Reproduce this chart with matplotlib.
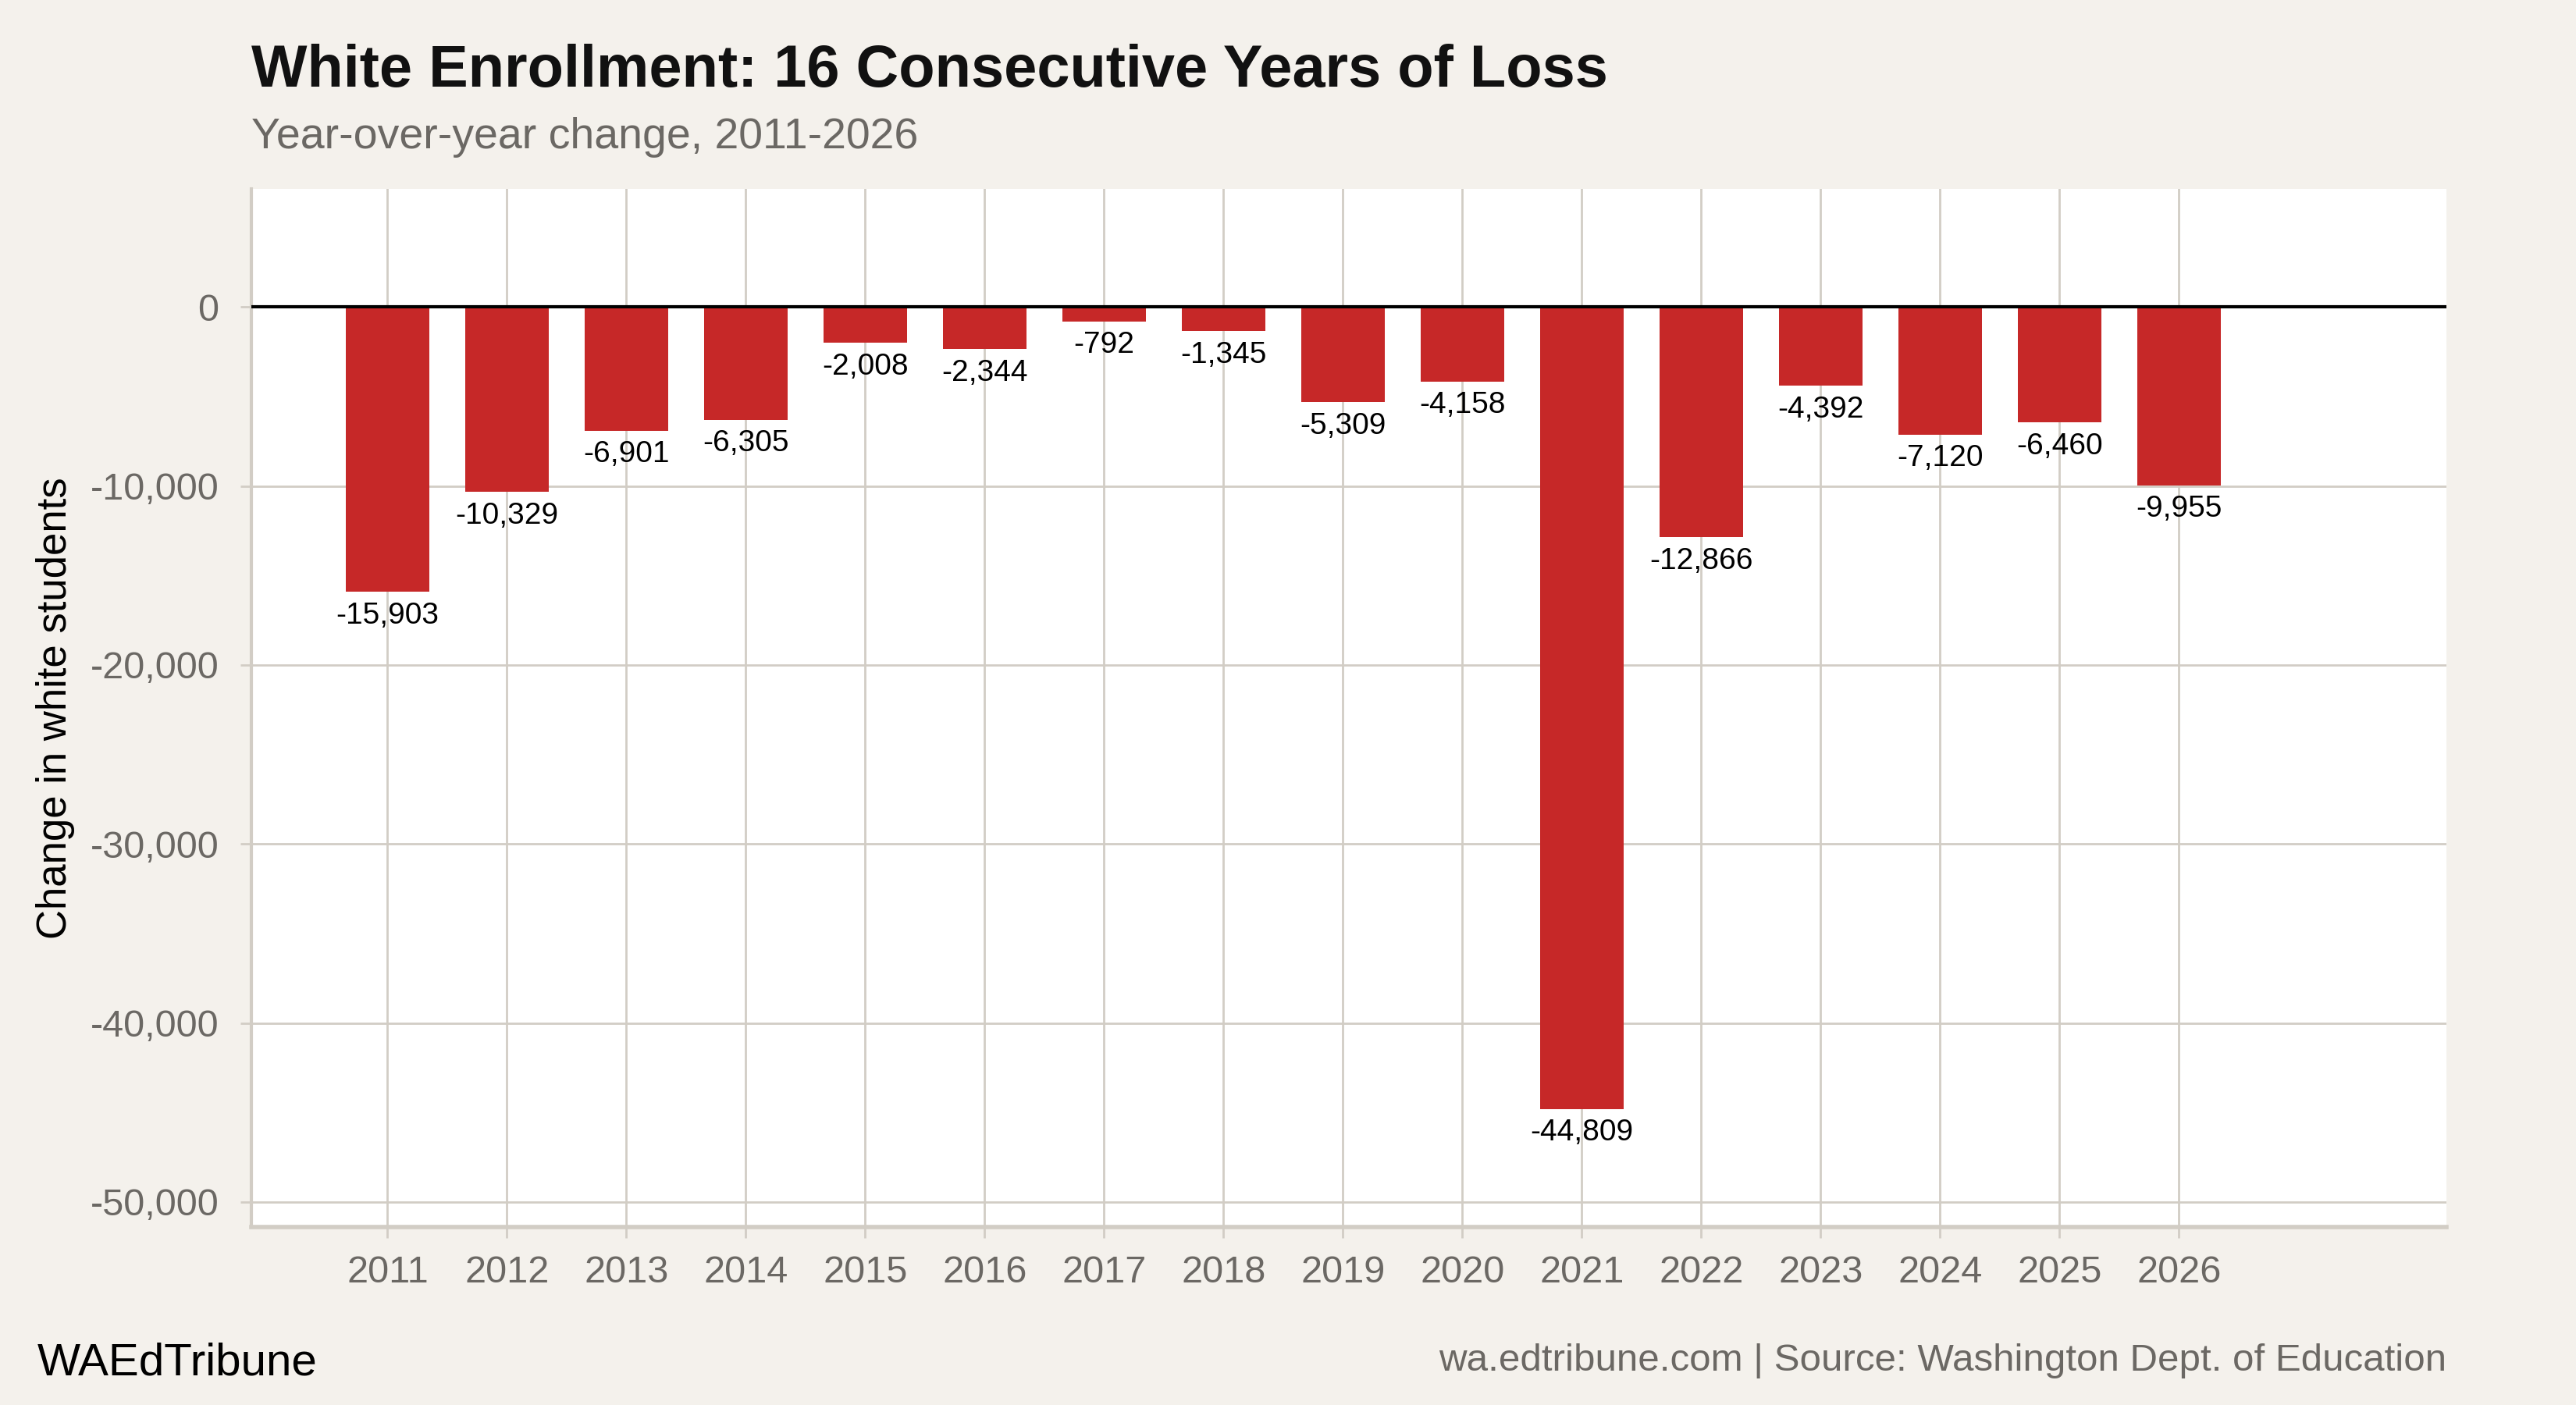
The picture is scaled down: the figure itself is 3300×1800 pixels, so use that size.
import matplotlib
matplotlib.use('Agg')
import matplotlib.pyplot as plt
from matplotlib.ticker import FuncFormatter

# year-over-year change in white enrollment
years = list(range(2011, 2027))
change = [-15903, -10329, -6901, -6305, -2008, -2344, -792, -1345,
          -5309, -4158, -44809, -12866, -4392, -7120, -6460, -9955]

bg = '#F4F1EC'
red = '#C62828'
grid_c = '#D2CDC5'
gray_txt = '#6B6864'

plt.rcParams['font.family'] = ['Liberation Sans', 'DejaVu Sans']

fig = plt.figure(figsize=(33, 18), dpi=100, facecolor=bg)
ax = fig.add_axes([322 / 3300, 1 - 1572 / 1800, (3134 - 322) / 3300, (1572 - 242) / 1800])
ax.set_facecolor('white')

ax.bar(years, change, width=0.7, color=red, zorder=3)
ax.axhline(0, color='black', lw=3, zorder=4)

for x, v in zip(years, change):
    ax.annotate(f'{v:,}', (x, v), xytext=(0, -9), textcoords='offset points',
                ha='center', va='top', fontsize=28, color='black', zorder=5)

ax.set_xlim(2009.86, 2028.24)
ax.set_ylim(-51400, 6600)
ax.set_xticks(years)
ax.set_yticks(range(-50000, 1, 10000))
ax.yaxis.set_major_formatter(FuncFormatter(lambda v, p: f'{int(v):,}'))

ax.grid(True, color=grid_c, lw=2, zorder=0)
for s in ['top', 'right']:
    ax.spines[s].set_visible(False)
ax.spines['left'].set_color(grid_c)
ax.spines['left'].set_linewidth(3)
ax.spines['bottom'].set_color(grid_c)
ax.spines['bottom'].set_linewidth(4)
ax.tick_params(axis='both', colors=grid_c, length=10, width=2, labelsize=35,
               labelcolor=gray_txt)
ax.tick_params(axis='y', pad=20)
ax.tick_params(axis='x', pad=16)

ax.set_ylabel('Change in white students', fontsize=38, color='black', labelpad=14)

fig.text(322 / 3300, 1 - 92 / 1800, 'White Enrollment: 16 Consecutive Years of Loss',
         fontsize=54.5, fontweight='bold', color='#111111', va='center', ha='left')
fig.text(322 / 3300, 1 - 176 / 1800, 'Year-over-year change, 2011-2026',
         fontsize=40, color=gray_txt, va='center', ha='left')
fig.text(48 / 3300, 1 - 1746 / 1800, 'WAEdTribune', fontsize=42, color='black',
         va='center', ha='left')
fig.text(3134 / 3300, 1 - 1744 / 1800,
         'wa.edtribune.com | Source: Washington Dept. of Education',
         fontsize=35.5, color=gray_txt, va='center', ha='right')

fig.savefig('out.png', dpi=100, facecolor=bg)
